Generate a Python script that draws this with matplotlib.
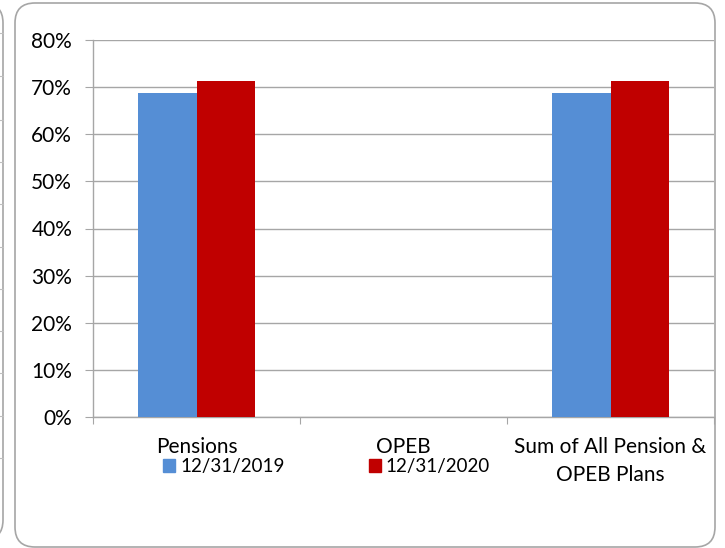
import numpy as np
import matplotlib
matplotlib.use("Agg")
import matplotlib.pyplot as plt
from matplotlib.patches import FancyBboxPatch, Patch

# data
categories = ["Pensions", "OPEB", "Sum of All Pension &\nOPEB Plans"]
series_names = ["12/31/2019", "12/31/2020"]
funded_2019 = [0.688, 0.0, 0.688]
funded_2020 = [0.712, 0.0, 0.712]
colors = ["#558ED5", "#C00000"]
yticks = [0.0, 0.1, 0.2, 0.3, 0.4, 0.5, 0.6, 0.7, 0.8]

plt.rcParams['font.family'] = ['Lato', 'DejaVu Sans']
fs = 15
fs_leg = 13.5

W, H = 725, 548
fig = plt.figure(figsize=(W / 100, H / 100), dpi=100)

# background layer in pixel units (y down) for the rounded frames and labels
bg = fig.add_axes([0, 0, 1, 1], zorder=0)
bg.set_xlim(0, W)
bg.set_ylim(H, 0)
bg.axis("off")
edge = "#A6A6A6"
bg.add_patch(FancyBboxPatch((15, 3), 700, 544, boxstyle="round,pad=0,rounding_size=20",
                            fc="white", ec=edge, lw=1.2))
# neighbouring panel cut off at the left edge
bg.add_patch(FancyBboxPatch((-120, 3), 123, 537, boxstyle="round,pad=0,rounding_size=20",
                            fc="white", ec=edge, lw=1.2))
for yy in [33, 76, 120, 162, 204, 247, 289, 331, 373, 416, 458]:
    bg.plot([0, 3], [yy, yy], color="#BFBFBF", lw=0.8)

# main chart
x0, x1, y0, y1 = 93, 714, 417, 40
ax = fig.add_axes([x0 / W, 1 - y0 / H, (x1 - x0) / W, (y0 - y1) / H], zorder=1)
ax.patch.set_alpha(0)

x = np.arange(len(categories))
bw = 0.285
ax.bar(x - bw / 2, funded_2019, bw, color=colors[0], label=series_names[0], zorder=3)
ax.bar(x + bw / 2, funded_2020, bw, color=colors[1], label=series_names[1], zorder=3)

ax.set_xlim(-0.5, len(categories) - 0.5)
ax.set_ylim(0, 0.8)
ax.set_yticks(yticks)
ax.set_yticklabels([f"{int(round(v * 100))}%" for v in yticks], fontsize=fs)
ax.yaxis.grid(True, color="#A6A6A6", lw=1.0, zorder=0)

for s in ["top", "right"]:
    ax.spines[s].set_visible(False)
for s in ["left", "bottom"]:
    ax.spines[s].set_color("#A6A6A6")
    ax.spines[s].set_linewidth(1.0)

ax.set_xticks(np.arange(len(categories) + 1) - 0.5)
ax.set_xticklabels([])
ax.tick_params(axis="x", length=5, color="#A6A6A6")
ax.tick_params(axis="y", length=6, color="#A6A6A6", pad=9)

# category labels: x in data units, y in pixels
trans = matplotlib.transforms.blended_transform_factory(ax.transData, bg.transData)
for i, c in enumerate(categories):
    for k, line in enumerate(c.split("\n")):
        ax.text(i, 453 + 28 * k, line, ha="center", va="baseline",
                fontsize=fs, transform=trans)

handles = [Patch(color=colors[0]), Patch(color=colors[1])]
ax.legend(handles, series_names, ncol=2, loc="upper left",
          bbox_to_anchor=(163, 458), bbox_transform=bg.transData,
          frameon=False, fontsize=fs_leg, handlelength=0.64, handleheight=0.64,
          handletextpad=0.27, columnspacing=4.5, borderaxespad=0, borderpad=0)

fig.savefig("out.png", dpi=100)
